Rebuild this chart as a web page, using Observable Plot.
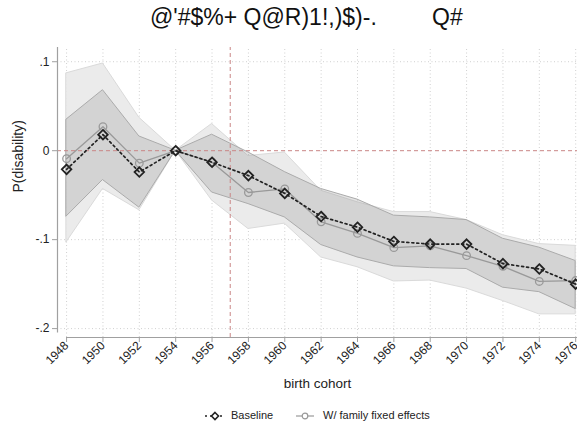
<!DOCTYPE html>
<html><head><meta charset="utf-8">
<script src="https://cdn.jsdelivr.net/npm/d3@7"></script>
<script src="https://cdn.jsdelivr.net/npm/@observablehq/plot@0.6"></script>
<style>
body{margin:0;background:#fff;font-family:"Liberation Sans",Arial,sans-serif;width:577px;height:425px;position:relative;overflow:hidden;}
.t{position:absolute;font-size:23px;color:#111;white-space:pre;top:4px;}
#chart{position:absolute;left:0;top:38px;}
.lg{position:absolute;top:409px;font-size:11px;color:#222;white-space:pre;}
</style></head><body>
<div class="t" style="left:150px">@'#$%+ Q@R)1!,)$)-.</div>
<div class="t" style="left:432px">Q#</div>
<div id="chart"></div>
<svg class="lg" style="left:204px;top:411px" width="22" height="10"><line x1="1" x2="21" y1="5" y2="5" stroke="#222" stroke-width="1.6" stroke-dasharray="2,3"/><path d="M11,1.5L14.5,5L11,8.5L7.5,5Z" fill="#fff" stroke="#222" stroke-width="1.6"/></svg>
<div class="lg" style="left:231px">Baseline</div>
<svg class="lg" style="left:295px;top:411px" width="20" height="10"><line x1="1" x2="19" y1="5" y2="5" stroke="#999" stroke-width="1.2"/><circle cx="10" cy="5" r="2.8" fill="#fff" stroke="#999" stroke-width="1.2"/></svg>
<div class="lg" style="left:323px">W/ family fixed effects</div>
<script>
const years = [1948,1950,1952,1954,1956,1958,1960,1962,1964,1966,1968,1970,1972,1974,1976];
const baseline = [-0.021,0.018,-0.024,0,-0.013,-0.028,-0.048,-0.074,-0.086,-0.102,-0.105,-0.105,-0.127,-0.133,-0.150];
const baselineLo = [-0.074,-0.033,-0.064,0,-0.047,-0.060,-0.075,-0.106,-0.120,-0.130,-0.132,-0.133,-0.154,-0.159,-0.178];
const baselineHi = [0.035,0.068,0.016,0,0.018,-0.002,-0.024,-0.043,-0.055,-0.073,-0.075,-0.078,-0.099,-0.109,-0.124];
const familyFE = [-0.009,0.027,-0.014,0,-0.013,-0.047,-0.043,-0.080,-0.093,-0.109,-0.107,-0.118,-0.130,-0.147,-0.146];
const familyFELo = [-0.103,-0.043,-0.067,0,-0.056,-0.088,-0.082,-0.120,-0.131,-0.147,-0.146,-0.155,-0.169,-0.184,-0.184];
const familyFEHi = [0.087,0.098,0.037,0,0.030,-0.006,-0.002,-0.045,-0.058,-0.069,-0.069,-0.078,-0.095,-0.105,-0.107];
const yTicks = [0.1,0,-0.1,-0.2];
const yTickLabels = [".1","0","-.1","-.2"];
const cutoffYear = 1957;
const xLabel = "birth cohort";
const yLabel = "P(disability)";

const rows = years.map((y,i)=>({year:y,b:baseline[i],bl:baselineLo[i],bh:baselineHi[i],f:familyFE[i],fl:familyFELo[i],fh:familyFEHi[i]}));
const X0 = 1947.5, X1 = 1976.1, Y0 = -0.21, Y1 = 0.116;
const lab = new Map(yTicks.map((t,i)=>[t,yTickLabels[i]]));

const chart = Plot.plot({
  width:577, height:362, marginLeft:57, marginRight:0, marginTop:9, marginBottom:63,
  style:{fontFamily:"Liberation Sans, Arial, sans-serif", fontSize:"12px", color:"#222", background:"transparent", overflow:"visible"},
  x:{domain:[X0,X1], axis:null},
  y:{domain:[Y0,Y1], axis:null},
  marks:[
    Plot.ruleX(years,{x:d=>d, y1:Y0, y2:Y1, stroke:"#d0d0d0", strokeDasharray:"1,2.5", strokeWidth:1}),
    Plot.ruleY(yTicks.filter(t=>t!==0),{y:d=>d, x1:X0, x2:X1, stroke:"#d0d0d0", strokeDasharray:"1,2.5", strokeWidth:1}),
    Plot.areaY(rows,{x:"year", y1:"fl", y2:"fh", fill:"#ebebeb", stroke:"#dadada", strokeWidth:1}),
    Plot.areaY(rows,{x:"year", y1:"bl", y2:"bh", fill:"#808080", fillOpacity:0.22, stroke:"#ababab", strokeWidth:1}),
    Plot.ruleY([0],{x1:X0, x2:X1, stroke:"#c98585", strokeDasharray:"4,3", strokeWidth:1}),
    Plot.ruleX([cutoffYear],{y1:Y0, y2:Y1, stroke:"#c98585", strokeDasharray:"4,3", strokeWidth:1}),
    Plot.line(rows,{x:"year", y:"f", stroke:"#999", strokeWidth:1.3}),
    Plot.dot(rows,{x:"year", y:"f", r:3.8, stroke:"#999", fill:"none", strokeWidth:1.3}),
    Plot.line(rows,{x:"year", y:"b", stroke:"#222", strokeWidth:1.7, strokeDasharray:"2,3"}),
    Plot.dot(rows,{x:"year", y:"b", symbol:"diamond2", r:4.3, stroke:"#222", fill:"none", strokeWidth:1.8}),
    Plot.ruleX([X0],{y1:-0.205, y2:Y1, stroke:"#a0a0a0", strokeWidth:1.2}),
    Plot.ruleY([Y0],{x1:1948, x2:X1, stroke:"#a0a0a0", strokeWidth:1.2}),
    Plot.axisY(yTicks,{anchor:"left", tickSize:5, tickPadding:3, stroke:"#a0a0a0", tickFormat:d=>lab.get(d), label:null, fontSize:12, fill:"#222"}),
    Plot.axisX(years,{anchor:"bottom", tickSize:5, tickPadding:1, tickRotate:-45, stroke:"#a0a0a0", tickFormat:d=>String(d), label:null, fontSize:12, fill:"#222"}),
    Plot.text([xLabel],{frameAnchor:"bottom", dy:50, fontSize:13.5, fill:"#222"}),
    Plot.text([yLabel],{frameAnchor:"left", dx:-39, rotate:-90, fontSize:14, fill:"#222"})
  ]
});
document.getElementById("chart").appendChild(chart);
</script>
</body></html>
